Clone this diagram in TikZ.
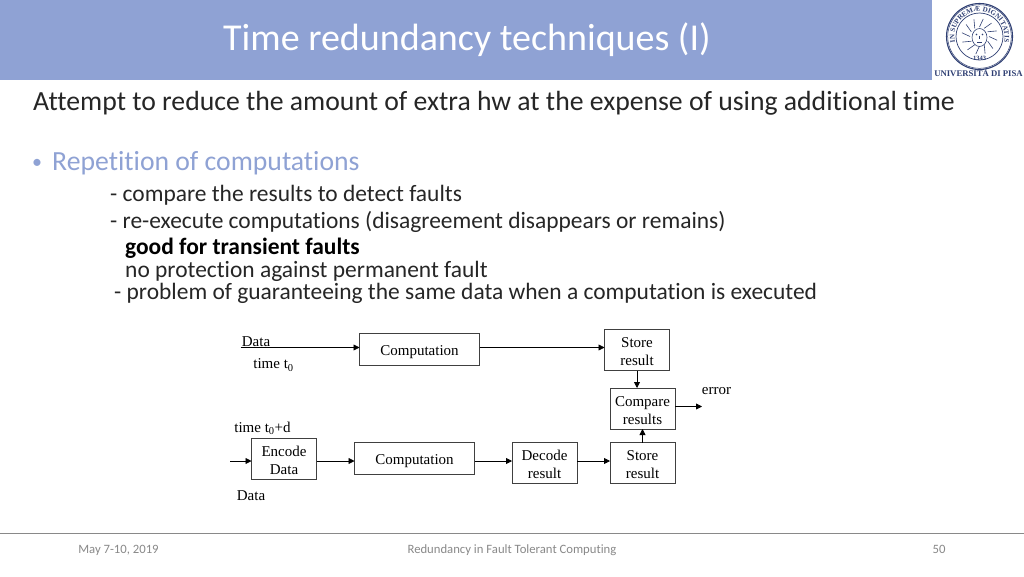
\documentclass[tikz,border=0pt]{standalone}
\usepackage{fontspec}
\setmainfont[Ligatures=NoCommon]{Carlito}
\newfontfamily\figfont{Liberation Serif}
\usetikzlibrary{positioning,calc,arrows.meta,decorations.text}
\definecolor{headblue}{HTML}{8FA2D4}
\definecolor{bodyink}{HTML}{262626}
\definecolor{footgray}{HTML}{898989}
\definecolor{sealblue}{HTML}{2F3F73}
\definecolor{boxgray}{HTML}{404040}
\tikzset{
  slidetext/.style={anchor=base west,inner sep=0pt,text=bodyink,font=\fontsize{23.45}{25}\selectfont},
  bigtext/.style={slidetext,font=\fontsize{27.7}{29}\selectfont},
  foottext/.style={anchor=base,inner sep=0pt,text=footgray,font=\fontsize{12.7}{14}\selectfont},
  block/.style={draw=boxgray,line width=0.8pt,inner sep=0pt,outer sep=0pt,align=center,
    font=\figfont\fontsize{15}{18}\selectfont,text=black},
  wideblock/.style={block,minimum width=120pt,minimum height=32pt,text height=13pt,text depth=2pt},
  smallblock/.style={block,minimum width=65pt,minimum height=41pt,text height=31pt,text depth=0pt},
  figlabel/.style={inner sep=0pt,font=\figfont\fontsize{15}{18}\selectfont,text=black},
  flow/.style={draw=black,line width=0.8pt,-{Triangle[length=6pt,width=6pt]}},
}
\begin{document}
\begin{tikzpicture}[x=1pt,y=-1pt]
  \useasboundingbox[fill=white] (0,0) rectangle (1024,576) ;

  % header
  \fill[headblue] (0,0) rectangle (932,80) ;
  \node[anchor=base west,inner sep=0pt,text=white,font=\fontsize{38}{40}\selectfont] (title) at (223,50) {Time redundancy techniques (I)} ;

  % seal
  \coordinate (seal) at (979.5,36.5) ;
  \draw[sealblue,line width=1.1pt] (seal) circle (33) ;
  \draw[sealblue,line width=0.5pt] (seal) circle (31.8) ;
  \draw[sealblue,line width=0.7pt] (seal) circle (23.5) ;
  \path[decorate,decoration={text along path,text align=center,
      text={|\figfont\bfseries\fontsize{7}{8}\selectfont\color{sealblue}|IN SUPREMÆ DIGNITATIS}}]
    (seal) ++(115:25) arc[start angle=115,end angle=425,radius=25] ;
  \node[inner sep=0pt,text=sealblue,font=\figfont\bfseries\fontsize{6.5}{7}\selectfont] (year) at (979.5,58.5) {1343} ;
  \foreach \a in {0,30,...,330}
    \draw[sealblue,line width=0.6pt] ($(seal)+(\a:9.5)$) -- ($(seal)+(\a+12:18)$) ;
  \filldraw[fill=white,draw=sealblue,line width=0.6pt] (seal) ++(0,1) ellipse (7.5 and 9) ;
  \fill[sealblue] (976.5,34.5) circle (0.8) (982.5,34.5) circle (0.8) ;
  \draw[sealblue,line width=0.6pt] (979.5,35.5) -- (979.5,39) (977,42) -- (982,42) ;
  \node[anchor=base,inner sep=0pt,text=sealblue,font=\figfont\bfseries\fontsize{8.7}{10}\selectfont] (uni) at (978.5,76) {UNIVERSITÀ DI PISA} ;

  % slide text
  \node[bigtext] (attempt) at (33,110) {Attempt to reduce the amount of extra hw at the expense of using additional time} ;
  \node[bigtext,text=headblue,font=\fontsize{20}{22}\selectfont] (bullet) at (32,168) {•} ;
  \node[bigtext,text=headblue] (rep) at (52,170) {Repetition of computations} ;
  \node[slidetext] (l1) at (110,201) {- compare the results to detect faults} ;
  \node[slidetext] (l2) at (110,228) {- re-execute computations (disagreement disappears or remains)} ;
  \node[slidetext,font=\fontsize{23.45}{25}\selectfont\bfseries,text=black] (l3) at (125,254) {good for transient faults} ;
  \node[slidetext] (l4) at (125,277) {no protection against permanent fault} ;
  \node[slidetext] (l5) at (114,299) {- problem of guaranteeing the same data when a computation is executed} ;

  % diagram
  \node[wideblock] (comp1) at (419.5,349.5) {Computation} ;
  \node[smallblock] (store1) at (637,350) {Store\\result} ;
  \node[smallblock] (compare) at (642.5,408.5) {Compare\\results} ;
  \node[smallblock,below=13.5pt of compare] (store2) {Store\\result} ;
  \node[smallblock,left=33pt of store2] (decode) {Decode\\result} ;
  \node[smallblock] (encode) at (284,458.5) {Encode\\Data} ;
  \node[wideblock,right=38pt of encode] (comp2) {Computation} ;

  \node[figlabel] (data1) at (256,341.5) {Data} ;
  \node[figlabel] (t1) at (273.5,365) {time t\textsubscript{0}} ;
  \node[figlabel] (t2) at (262.5,428) {time t\textsubscript{0}+d} ;
  \node[figlabel] (data2) at (251,496) {Data} ;
  \node[figlabel] (err) at (716.5,391) {error} ;

  \coordinate (in1) at (240.5,347.5) ;
  \coordinate (in2) at (230,461) ;
  \coordinate (out) at (702,406.5) ;

  \draw[flow] (in1) -- (in1 -| comp1.west) ;
  \draw[flow] (in1 -| comp1.east) -- (in1 -| store1.west) ;
  \draw[flow] (store1.south) -- (store1.south |- compare.north) ;
  \draw[flow] (store2.north) -- (compare.south) ;
  \draw[flow] (out -| compare.east) -- (out) ;
  \draw[flow] (in2) -- (in2 -| encode.west) ;
  \draw[flow] (in2 -| encode.east) -- (in2 -| comp2.west) ;
  \draw[flow] (in2 -| comp2.east) -- (in2 -| decode.west) ;
  \draw[flow] (in2 -| decode.east) -- (in2 -| store2.west) ;

  % footer
  \draw[footgray,line width=0.8pt] (0,533) -- (1024,533) ;
  \node[foottext] (date) at (118.5,553) {May 7-10, 2019} ;
  \node[foottext] (talk) at (512,553) {Redundancy in Fault Tolerant Computing} ;
  \node[foottext] (page) at (939,553) {50} ;
\end{tikzpicture}
\end{document}
